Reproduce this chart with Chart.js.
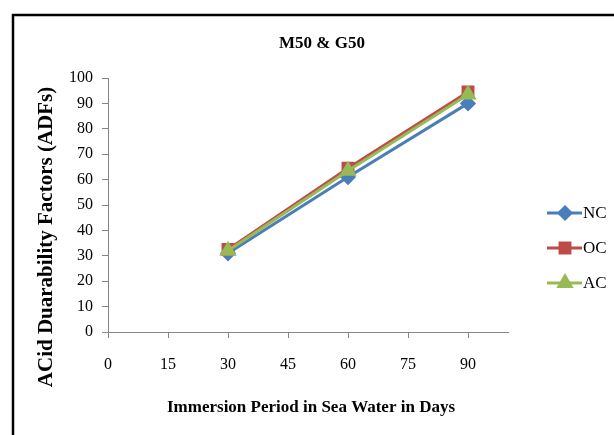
<!DOCTYPE html>
<html>
<head>
<meta charset="utf-8">
<script src="https://cdn.jsdelivr.net/npm/chart.js@4"></script>
<style>
  html, body { margin: 0; padding: 0; background: #fff; }
  #wrap { width: 614px; height: 435px; }
</style>
</head>
<body>
<div id="wrap"><canvas id="myChart" width="614" height="435"></canvas></div>
<script>
// values
const days = [30, 60, 90];
const ncValues = [31, 61, 90];
const ocValues = [32.5, 64.5, 94.5];
const acValues = [32, 63.5, 93.5];
const seriesNames = ['NC', 'OC', 'AC'];
const xTickValues = [0, 15, 30, 45, 60, 75, 90];

const chartTitle = 'M50 & G50';
const xTitle = 'Immersion Period in Sea Water in Days';
const yTitle = 'ACid Duarability Factors (ADFs)';

const serif = '"Liberation Serif", "DejaVu Serif", serif';

const toPoints = (vals) => days.map((d, i) => ({x: d, y: vals[i]}));

// frame, titles and the legend with line + marker samples
const decorations = {
    id: 'decorations',
    beforeDraw: (chart) => {
        const c = chart.ctx;
        c.save();
        c.fillStyle = '#fff';
        c.fillRect(0, 0, chart.width, chart.height);
        c.strokeStyle = '#000';
        c.lineWidth = 2.5;
        c.strokeRect(13, 15, chart.width + 20, chart.height + 20);
        c.restore();
    },
    afterDraw: (chart) => {
        const c = chart.ctx;
        const area = chart.chartArea;
        c.save();
        c.fillStyle = '#000';
        c.textAlign = 'center';
        c.textBaseline = 'middle';
        c.font = 'bold 17px ' + serif;
        c.fillText(chartTitle, 322, 44);
        c.fillText(xTitle, 311, 408);
        c.font = 'bold 21px ' + serif;
        c.translate(47, 237);
        c.rotate(-Math.PI / 2);
        c.fillText(yTitle, 0, 0);
        c.restore();

        // legend
        c.save();
        chart.data.datasets.forEach((ds, i) => {
            const y = 213 + i * 35;
            c.strokeStyle = ds.borderColor;
            c.lineWidth = 3;
            c.beginPath();
            c.moveTo(547, y);
            c.lineTo(582, y);
            c.stroke();
            Chart.helpers.drawPoint(c, {
                pointStyle: ds.pointStyle,
                radius: ds.pointRadius,
                rotation: 0,
                borderWidth: 1
            }, 565, y);
            c.fillStyle = ds.pointBackgroundColor;
            c.strokeStyle = ds.borderColor;
            c.lineWidth = 1;
            c.fill();
            c.stroke();
            c.fillStyle = '#000';
            c.font = '17px ' + serif;
            c.textAlign = 'left';
            c.textBaseline = 'middle';
            c.fillText(ds.label, 583, y + 1);
        });
        c.restore();
    }
};

const ctx = document.getElementById('myChart').getContext('2d');
const myChart = new Chart(ctx, {
    type: 'line',
    data: {
        datasets: [
            {
                label: seriesNames[0],
                data: toPoints(ncValues),
                borderColor: '#4A7EBB',
                backgroundColor: '#4A7EBB',
                pointBackgroundColor: '#4A7EBB',
                pointStyle: 'rectRot',
                pointRadius: 6,
                borderWidth: 3,
                order: 3
            },
            {
                label: seriesNames[1],
                data: toPoints(ocValues),
                borderColor: '#BE4B48',
                backgroundColor: '#BE4B48',
                pointBackgroundColor: '#BE4B48',
                pointStyle: 'rect',
                pointRadius: 7,
                borderWidth: 3,
                order: 2
            },
            {
                label: seriesNames[2],
                data: toPoints(acValues),
                borderColor: '#98B954',
                backgroundColor: '#98B954',
                pointBackgroundColor: '#98B954',
                pointStyle: 'triangle',
                pointRadius: 7,
                borderWidth: 3,
                order: 1
            }
        ]
    },
    options: {
        responsive: false,
        animation: false,
        layout: {
            padding: {top: 78, right: 106, left: 0, bottom: 0}
        },
        plugins: {
            legend: {display: false},
            title: {display: false},
            tooltip: {enabled: false}
        },
        scales: {
            x: {
                type: 'linear',
                min: 0,
                max: 100,
                afterBuildTicks: (scale) => {
                    scale.ticks = xTickValues.map(v => ({value: v}));
                },
                afterFit: (scale) => { scale.height = 103; },
                border: {color: '#868686', width: 1},
                grid: {drawOnChartArea: false, tickLength: 6, tickColor: '#868686'},
                ticks: {
                    color: '#000',
                    font: {family: serif, size: 16},
                    padding: 17,
                    maxRotation: 0
                }
            },
            y: {
                min: 0,
                max: 100,
                afterFit: (scale) => { scale.width = 108; },
                border: {color: '#868686', width: 1},
                grid: {drawOnChartArea: false, tickLength: 6, tickColor: '#868686'},
                ticks: {
                    stepSize: 10,
                    color: '#000',
                    font: {family: serif, size: 16},
                    padding: 9
                }
            }
        }
    },
    plugins: [decorations]
});
</script>
</body>
</html>
